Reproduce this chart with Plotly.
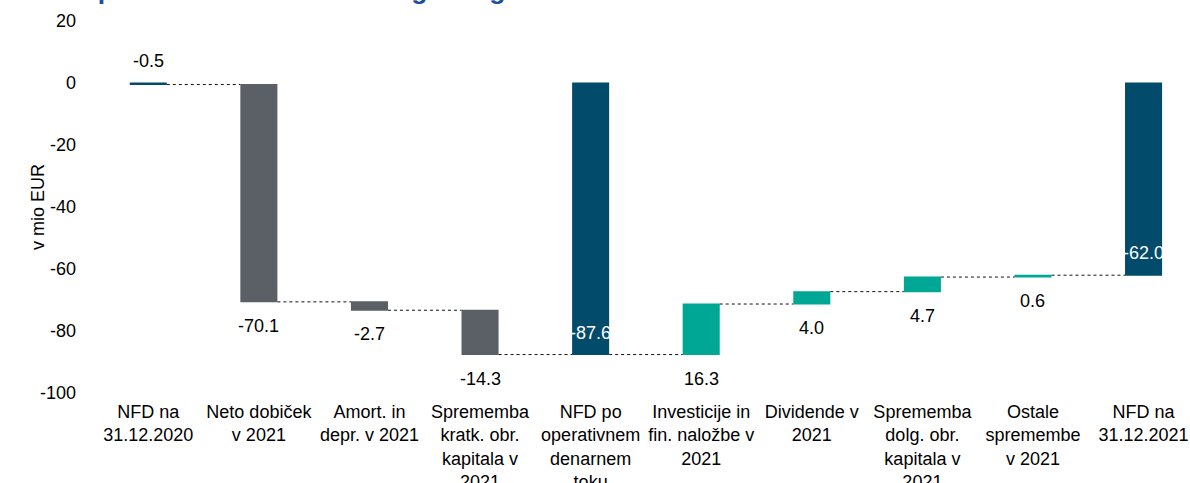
import plotly.graph_objects as go

categories = [
    "NFD na<br>31.12.2020",
    "Neto dobiček<br>v 2021",
    "Amort. in<br>depr. v 2021",
    "Sprememba<br>kratk. obr.<br>kapitala v<br>2021",
    "NFD po<br>operativnem<br>denarnem<br>toku",
    "Investicije in<br>fin. naložbe v<br>2021",
    "Dividende v<br>2021",
    "Sprememba<br>dolg. obr.<br>kapitala v<br>2021",
    "Ostale<br>spremembe<br>v 2021",
    "NFD na<br>31.12.2021",
]
values = [-0.5, -70.1, -2.7, -14.3, 0, 16.3, 4.0, 4.7, 0.6, 0]
measures = ["absolute", "relative", "relative", "relative", "total",
            "relative", "relative", "relative", "relative", "total"]
labels = ["-0.5", "-70.1", "-2.7", "-14.3", "-87.6", "16.3", "4.0", "4.7", "0.6", "-62.0"]
y_tickvals = [20, 0, -20, -40, -60, -80, -100]
y_ticktext = ["20", "0", "-20", "-40", "-60", "-80", "-100"]

title_text = "Sprememba neto finančnega dolga"
y_title = "v mio EUR"

FONT = "Liberation Sans, Arial, sans-serif"
GREY = "#5b5f66"
TEAL = "#00a794"
BLUE = "#034b6b"

fig = go.Figure(go.Waterfall(
    x=list(range(len(categories))),
    y=values,
    measure=measures,
    decreasing=dict(marker=dict(color=GREY)),
    increasing=dict(marker=dict(color=TEAL)),
    totals=dict(marker=dict(color=BLUE)),
    connector=dict(line=dict(color="#111111", width=1, dash="dot"), mode="between"),
    textposition="none",
    width=[0.335] * len(categories),
))

# compute bar extents for label placement
running = 0.0
annotations = []
for i, (m, v, lab) in enumerate(zip(measures, values, labels)):
    if m == "absolute":
        start, end = 0.0, v
        running = v
        annotations.append(dict(x=i, y=max(start, end), text=lab, showarrow=False,
                                yshift=22, font=dict(size=18, color="#000000", family=FONT)))
    elif m == "relative":
        start, end = running, running + v
        running = end
        annotations.append(dict(x=i, y=min(start, end), text=lab, showarrow=False,
                                yshift=-24, font=dict(size=18, color="#000000", family=FONT)))
    else:
        annotations.append(dict(x=i, y=running, text=lab, showarrow=False,
                                yshift=22, font=dict(size=18, color="#ffffff", family=FONT)))

annotations.append(dict(xref="paper", yref="paper", x=0, y=1, xanchor="left", yanchor="bottom",
                        xshift=-15, yshift=14, text="<b>" + title_text + "</b>", showarrow=False,
                        font=dict(size=26.5, color="#1d4ea0", family=FONT)))
annotations.append(dict(xref="paper", yref="paper", x=0, y=0.5, xanchor="center", yanchor="middle",
                        xshift=-55, text=y_title, textangle=-90, showarrow=False,
                        font=dict(size=18, color="#000000", family=FONT)))

fig.update_layout(
    width=1190, height=483,
    margin=dict(l=93, r=0, t=21, b=90),
    paper_bgcolor="white", plot_bgcolor="white",
    font=dict(family=FONT, size=18, color="#000000"),
    showlegend=False,
    annotations=annotations,
    xaxis=dict(
        tickmode="array", tickvals=list(range(len(categories))), ticktext=categories,
        range=[-0.5, 9.42], showgrid=False, zeroline=False, showline=False,
        tickangle=0, tickfont=dict(size=18), automargin=False, ticklabelstandoff=6,
    ),
    yaxis=dict(
        range=[-100, 20], tickmode="array", tickvals=y_tickvals, ticktext=y_ticktext,
        showgrid=False, zeroline=False, showline=False,
        ticklabelstandoff=16, tickfont=dict(size=18), automargin=False,
    ),
)

fig.write_html(
    "out.html",
    config={"displayModeBar": False},
    post_script="document.body.style.margin='0px';document.body.style.overflow='hidden';",
)
